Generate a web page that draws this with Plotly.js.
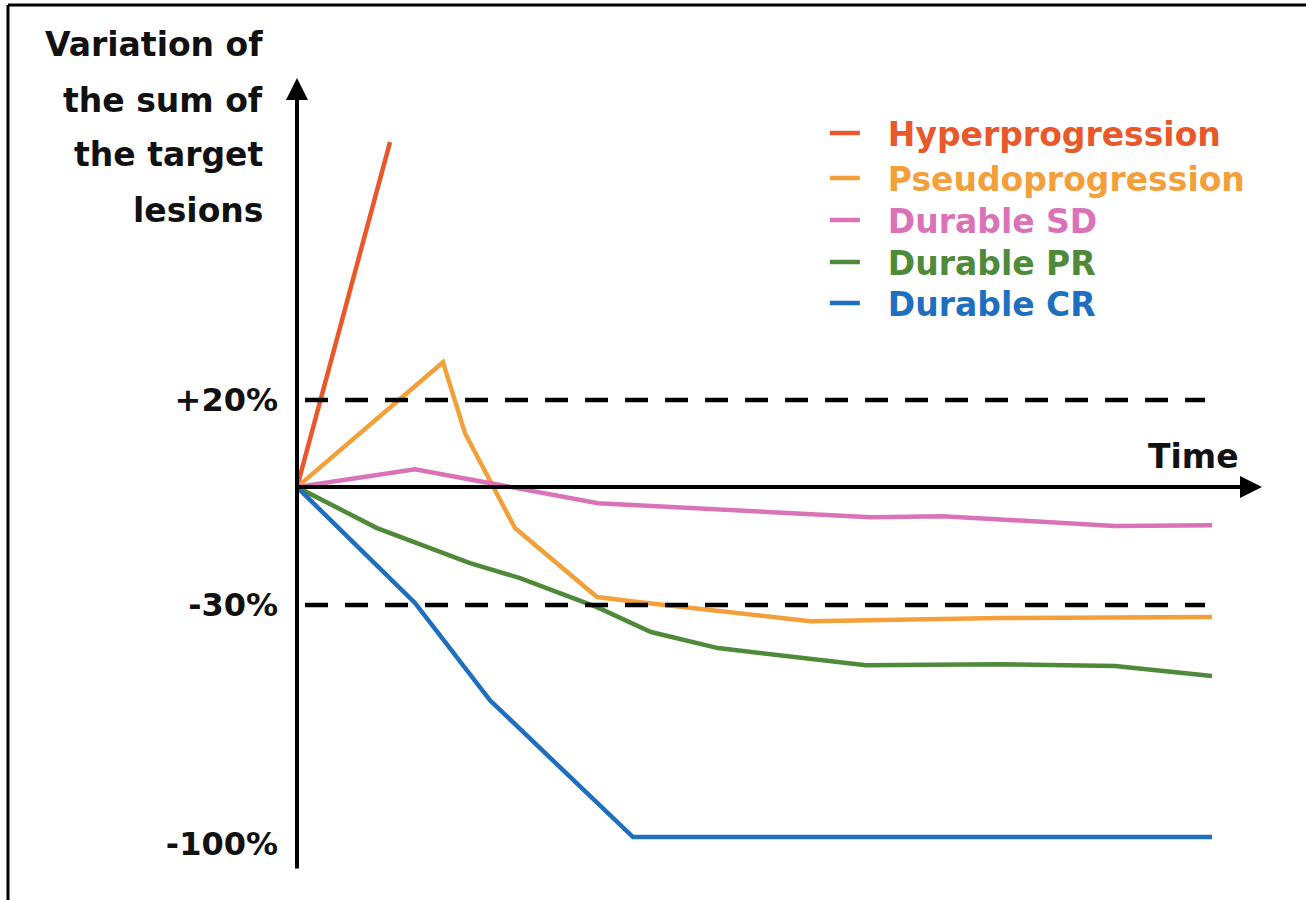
<!DOCTYPE html>
<html>
<head>
<meta charset="utf-8">
<script src="https://cdn.plot.ly/plotly-3.0.1.min.js"></script>
<style>html,body{margin:0;padding:0;background:#fff;}#chart{width:1306px;height:900px;}</style>
</head>
<body>
<div id="chart"></div>
<script>
// Schematic units: x = time (arbitrary), y = schematic position of the % variation
var seriesNames = ["Hyperprogression", "Pseudoprogression", "Durable SD", "Durable PR", "Durable CR"];
var seriesColors = ["#E9582B", "#F4A03A", "#DA72B8", "#4E8A3A", "#1F6FC0"];

var hyperX  = [0, 9.3];
var hyperY  = [0, 98.6];
var pseudoX = [0, 14.6, 16.8, 21.8, 30.0, 34.3, 51.3, 70.3, 91.5];
var pseudoY = [0, 35.7, 15.4, -11.7, -31.4, -32.9, -38.3, -37.4, -37.1];
var sdX     = [0, 11.8, 30.1, 43.3, 57.4, 64.6, 81.8, 91.5];
var sdY     = [0, 5.1, -4.6, -6.6, -8.6, -8.3, -11.1, -10.9];
var prX     = [0, 8.0, 17.3, 22.3, 30.0, 35.4, 42.1, 56.9, 70.3, 81.8, 91.5];
var prY     = [0, -11.7, -21.7, -26.0, -34.3, -41.4, -46.0, -50.9, -50.6, -51.1, -54.0];
var crX     = [0, 11.8, 19.3, 33.6, 91.5];
var crY     = [0, -33.1, -60.9, -100, -100];

var thresholdVals   = [24.9, -33.7];
var thresholdXRange = [0.8, 90.8];
var tickVals   = [24.9, -33.7, -102];
var tickLabels = ["+20%", "-30%", "-100%"];
var yAxisTitleLines = ["Variation of", "the sum of", "the target", "lesions"];
var xAxisTitle = "Time";

var xs = [hyperX, pseudoX, sdX, prX, crX];
var ys = [hyperY, pseudoY, sdY, prY, crY];

var FONT = "DejaVu Sans, Open Sans, sans-serif";
var legendIds = ["legend", "legend2", "legend3", "legend4", "legend5"];
var legendRowY = [0.9306, 0.8737, 0.8207, 0.7677, 0.7159];

var traces = [];
for (var i = 0; i < seriesNames.length; i++) {
  traces.push({
    x: xs[i], y: ys[i], type: "scatter", mode: "lines",
    name: '<span style="color:' + seriesColors[i] + '">&nbsp;&nbsp;' + seriesNames[i] + '</span>',
    legend: legendIds[i],
    line: {color: seriesColors[i], width: 4.5},
    hoverinfo: "skip"
  });
}
thresholdVals.forEach(function (v) {
  traces.push({
    x: thresholdXRange, y: [v, v], type: "scatter", mode: "lines",
    line: {color: "#000", width: 4.5, dash: "23px,17px"},
    showlegend: false, hoverinfo: "skip"
  });
});

var xr = [0, 96.5], yr = [-109.4, 116.9];

var annotations = [
  {x: xr[1], y: 0, ax: 0, ay: 0, xref: "x", yref: "y", axref: "x", ayref: "y",
   showarrow: true, arrowhead: 2, arrowsize: 1.1, arrowwidth: 4, arrowcolor: "#000", text: ""},
  {x: 0, y: yr[1], ax: 0, ay: yr[0], xref: "x", yref: "y", axref: "x", ayref: "y",
   showarrow: true, arrowhead: 2, arrowsize: 1.1, arrowwidth: 4, arrowcolor: "#000", text: ""},
  {x: 0.9295, y: 0.5215, xref: "paper", yref: "paper", text: "<b>" + xAxisTitle + "</b>",
   showarrow: false, xanchor: "center", yanchor: "middle", font: {family: FONT, size: 33, color: "#111"}}
];
var titleY = [1.0417, 0.9722, 0.9028, 0.8333];
yAxisTitleLines.forEach(function (t, k) {
  annotations.push({x: -0.0332, y: titleY[k], xref: "paper", yref: "paper", text: "<b>" + t + "</b>",
    showarrow: false, xanchor: "right", yanchor: "middle", font: {family: FONT, size: 33, color: "#111"}});
});

var layout = {
  width: 1306, height: 900, autosize: false,
  margin: {l: 297, r: 44, t: 78, b: 30, pad: 0},
  paper_bgcolor: "#fff", plot_bgcolor: "#fff",
  showlegend: true,
  xaxis: {range: xr, showgrid: false, zeroline: false, showline: false, showticklabels: false, fixedrange: true},
  yaxis: {range: yr, showgrid: false, zeroline: false, showline: false, tickvals: tickVals, ticktext: tickLabels,
          ticks: "", ticklabelstandoff: 18, tickfont: {family: FONT, size: 32, weight: "bold", color: "#111"}, fixedrange: true},
  annotations: annotations,
  shapes: [
    {type: "line", xref: "paper", yref: "paper", x0: -0.2995, x1: 1.0456, y0: 1.0922, y1: 1.0922, line: {color: "#000", width: 3}},
    {type: "line", xref: "paper", yref: "paper", x0: -0.2995, x1: -0.2995, y0: 1.0922, y1: -0.04, line: {color: "#000", width: 3}}
  ]
};
legendIds.forEach(function (id, k) {
  layout[id] = {x: 0.547, y: legendRowY[k], xanchor: "left", yanchor: "middle", bgcolor: "rgba(0,0,0,0)",
                font: {family: FONT, size: 33, weight: "bold"}, itemwidth: 30};
});

Plotly.newPlot("chart", traces, layout, {displayModeBar: false, staticPlot: true});
</script>
</body>
</html>
